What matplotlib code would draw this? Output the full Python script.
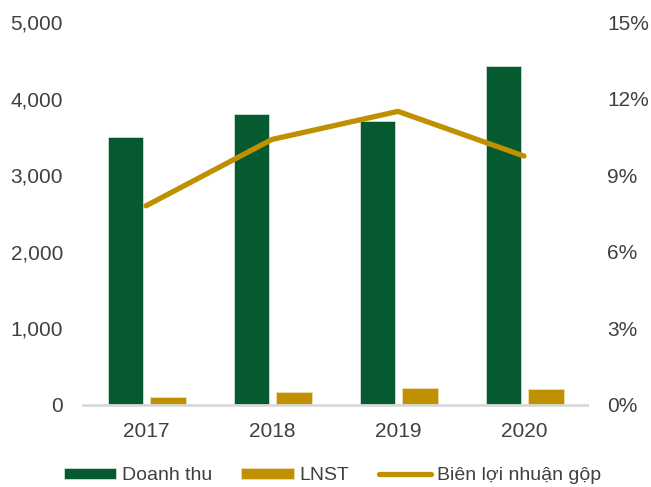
import matplotlib
matplotlib.use("Agg")
import matplotlib.pyplot as plt
from matplotlib.ticker import FuncFormatter
import numpy as np

plt.rcParams['font.family'] = ['Liberation Sans', 'DejaVu Sans']

years = ["2017", "2018", "2019", "2020"]
doanh_thu = [3500, 3800, 3710, 4420]
lnst = [105, 170, 222, 212]
bien_ln = [7.8, 10.4, 11.5, 9.75]

green = "#065A30"
gold = "#BF9000"
txt = "#404040"

fig = plt.figure(figsize=(6.51, 4.87), dpi=100)
ax = fig.add_axes([83/651, 1-405/487, (587-83)/651, (405-22)/487])
x = np.arange(len(years))
w = 0.28
ax.bar(x - 0.165, doanh_thu, w, color=green, edgecolor="#cfe0d4", linewidth=0.6, label="Doanh thu", zorder=2)
ax.bar(x + 0.175, lnst, w, color=gold, edgecolor="#f0e0b0", linewidth=0.6, label="LNST", zorder=2)
ax.set_xlim(-0.5, 3.5)
ax.set_ylim(0, 5000)
ax.set_yticks(range(0, 5001, 1000))
ax.yaxis.set_major_formatter(FuncFormatter(lambda v, p: f"{int(v):,}"))
ax.set_xticks(x)
ax.set_xticklabels(years)
for s in ["top", "right", "left"]:
    ax.spines[s].set_visible(False)
ax.spines["bottom"].set_color("#d9d9d9")
ax.spines["bottom"].set_linewidth(2)
ax.tick_params(axis="both", length=0, labelsize=15, colors=txt)
ax.tick_params(axis="y", pad=14.4)
ax.tick_params(axis="x", pad=12)

ax2 = ax.twinx()
ax2.plot(x, bien_ln, color=gold, linewidth=3.8, label="Biên lợi nhuận gộp", zorder=3, solid_capstyle="round")
ax2.set_ylim(0, 15)
ax2.set_yticks(range(0, 16, 3))
ax2.yaxis.set_major_formatter(FuncFormatter(lambda v, p: f"{int(v)}%"))
for s in ["top", "right", "left", "bottom"]:
    ax2.spines[s].set_visible(False)
ax2.tick_params(axis="y", length=0, labelsize=15, colors=txt, pad=14.5)

h1, l1 = ax.get_legend_handles_labels()
h2, l2 = ax2.get_legend_handles_labels()
fig.legend(h1 + h2, l1 + l2, loc="center", bbox_to_anchor=(332.5/651, 1-476/487), ncol=3, frameon=False,
           fontsize=14, labelcolor=txt, handlelength=2.7, handleheight=0.5, handletextpad=0.3,
           columnspacing=1.5, borderaxespad=0, borderpad=0)

fig.savefig("out.png", dpi=100)
